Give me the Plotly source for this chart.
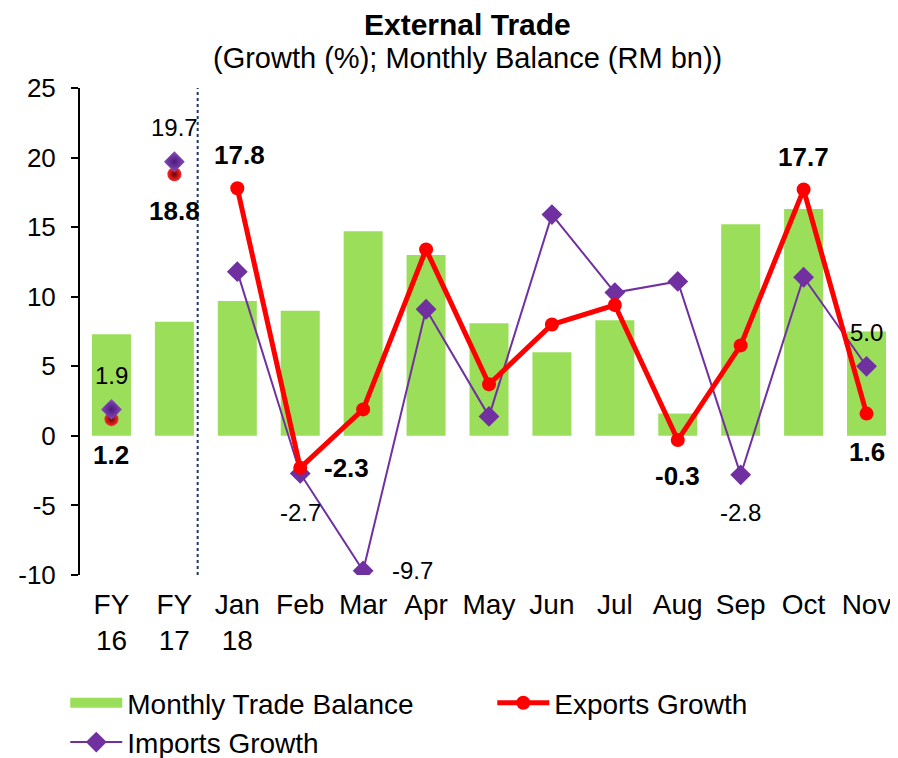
import plotly.graph_objects as go

categories = ["FY<br>16", "FY<br>17", "Jan<br>18", "Feb", "Mar", "Apr", "May",
              "Jun", "Jul", "Aug", "Sep", "Oct", "Nov"]
trade_balance = [7.3, 8.2, 9.7, 9.0, 14.7, 13.0, 8.1, 6.0, 8.3, 1.6, 15.2, 16.3, 7.5]
exports_growth = [1.2, 18.8, 17.8, -2.3, 1.9, 13.4, 3.7, 8.0, 9.4, -0.3, 6.5, 17.7, 1.6]
imports_growth = [1.9, 19.7, 11.8, -2.7, -9.7, 9.1, 1.4, 15.9, 10.3, 11.1, -2.8, 11.4, 5.0]
y_ticks = [-10, -5, 0, 5, 10, 15, 20, 25]

FONT = "Liberation Sans, Arial, sans-serif"
GREEN = "#9BDE5A"
RED = "#FF0000"
PURPLE = "#7030A0"

n_fy = 2  # annual points shown unconnected

fig = go.Figure()

fig.add_trace(go.Bar(
    x=categories, y=trade_balance, name="Monthly Trade Balance", showlegend=False,
    marker=dict(color=GREEN, line=dict(width=0)), width=0.62,
))
# legend proxy for the bars (wide rectangle symbol)
fig.add_trace(go.Scatter(
    x=[None], y=[None], name="Monthly Trade Balance", mode="lines",
    line=dict(color=GREEN, width=18), legendrank=1,
))

# imports (drawn below exports)
fig.add_trace(go.Scatter(
    x=categories[n_fy:], y=imports_growth[n_fy:], name="Imports Growth",
    mode="lines+markers", line=dict(color=PURPLE, width=2),
    marker=dict(symbol="diamond", size=16, color=PURPLE), legendrank=3,
))
fig.add_trace(go.Scatter(
    x=categories[n_fy:], y=exports_growth[n_fy:], name="Exports Growth",
    mode="lines+markers", line=dict(color=RED, width=5),
    marker=dict(symbol="circle", size=14, color=RED), legendrank=2,
))
# FY points (markers only)
fig.add_trace(go.Scatter(
    x=categories[:n_fy], y=exports_growth[:n_fy], mode="markers", showlegend=False,
    marker=dict(symbol="circle", size=14, color="#FF2A2A",
                gradient=dict(type="radial", color="#6A0000")),
))
fig.add_trace(go.Scatter(
    x=categories[:n_fy], y=imports_growth[:n_fy], mode="markers", showlegend=False,
    marker=dict(symbol="diamond", size=16, color="#8A4CC0",
                gradient=dict(type="radial", color="#4A1A78")),
))

# data labels: (index, xshift, yshift)
exp_labels = [(0, 0, -36), (1, 0, -37), (2, 2, 33), (3, 46, 0), (9, 0, -36), (11, 0, 33), (12, 0, -38)]
imp_labels = [(0, 0, 34), (1, 0, 34), (3, 0, -39), (4, 49, 0), (10, 0, -38), (12, 0, 34)]
for i, dx, dy in exp_labels:
    fig.add_annotation(x=categories[i], y=exports_growth[i], text=f"<b>{exports_growth[i]:.1f}</b>",
                       showarrow=False, xshift=dx, yshift=dy,
                       font=dict(family=FONT, size=26, color="black"))
for i, dx, dy in imp_labels:
    fig.add_annotation(x=categories[i], y=imports_growth[i], text=f"{imports_growth[i]:.1f}",
                       showarrow=False, xshift=dx, yshift=dy,
                       font=dict(family=FONT, size=24, color="black"))

# titles
fig.add_annotation(x=0.474, y=1 + (88 - 24) / 487, xref="paper", yref="paper", yanchor="middle",
                   showarrow=False, text="<b>External Trade</b>",
                   font=dict(family=FONT, size=30, color="black"))
fig.add_annotation(x=0.474, y=1 + (88 - 58) / 487, xref="paper", yref="paper", yanchor="middle",
                   showarrow=False, text="(Growth (%); Monthly Balance (RM bn))",
                   font=dict(family=FONT, size=29, color="black"))

# divider between annual and monthly data
fig.add_shape(type="line", xref="x", yref="y", x0=1.37, x1=1.37, y0=-10, y1=25.3,
              line=dict(color="#1F3864", width=2, dash="dot"))

# the page body has an 8px margin, so the figure is sized to end at the window edge
fig.update_layout(
    width=890, height=750,
    margin=dict(l=72, r=0, t=80, b=183, autoexpand=False),
    paper_bgcolor="white", plot_bgcolor="white",
    font=dict(family=FONT, size=26, color="black"),
    showlegend=True,
    legend=dict(orientation="h", x=-0.018, y=-0.2115, xanchor="left", yanchor="top",
                entrywidth=360, itemwidth=52, tracegroupgap=0,
                font=dict(family=FONT, size=28, color="black")),
    xaxis=dict(range=[-0.5, 12.5], showline=False, ticks="", showgrid=False, zeroline=False,
               tickfont=dict(family=FONT, size=28), automargin=False, ticklabelstandoff=10),
    xaxis2=dict(overlaying="x", anchor="free", position=10 / 35, matches="x",
                range=[-0.5, 12.5], tickmode="array",
                tickvals=[k + 0.5 for k in range(len(categories) - 1)],
                ticktext=["" for _ in range(len(categories) - 1)],
                ticks="outside", ticklen=8, tickwidth=2, tickcolor="black",
                showline=True, linecolor="black", linewidth=2, showgrid=False, zeroline=False,
                automargin=False),
    yaxis=dict(range=[-10, 25], tickmode="array", tickvals=y_ticks,
               ticktext=[str(v) for v in y_ticks],
               showline=True, linecolor="black", linewidth=2,
               ticks="outside", ticklen=7, tickwidth=2, tickcolor="black", showgrid=False,
               zeroline=False, tickfont=dict(family=FONT, size=26), ticklabelstandoff=10,
               automargin=False),
)

fig.write_html("out.html")
